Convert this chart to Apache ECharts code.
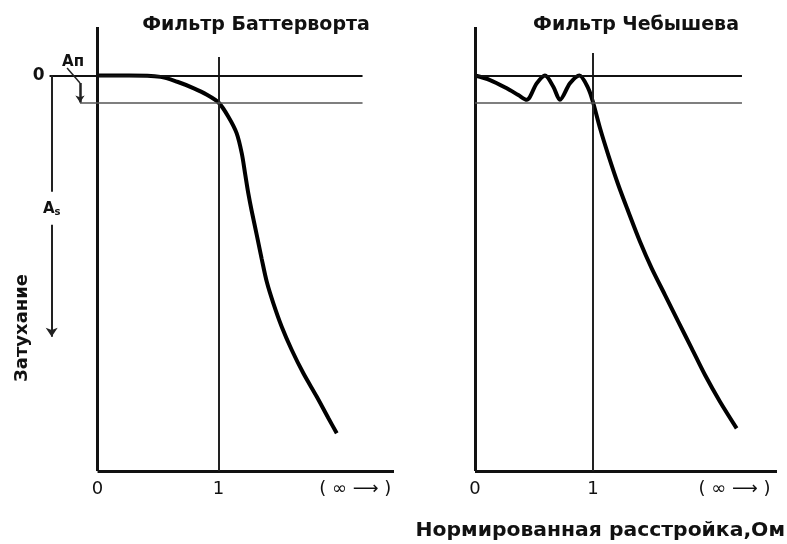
<!DOCTYPE html>
<html>
<head>
<meta charset="utf-8">
<script src="https://cdn.jsdelivr.net/npm/echarts@6/dist/echarts.min.js"></script>
<style>
html,body{margin:0;padding:0;background:#fff;}
#chart{width:787px;height:544px;}
</style>
</head>
<body>
<div id="chart"></div>
<script>
// ---- data (normalized detuning vs attenuation, attenuation grows downward) ----
const butterX = [0, 0.26, 0.52, 0.659, 0.796, 0.9, 1.0, 1.081, 1.150, 1.192, 1.219, 1.246, 1.274, 1.316, 1.357, 1.398, 1.453, 1.522, 1.605, 1.701, 1.812, 1.907, 1.977];
const butterY = [0, 0, 0.15, 0.69, 1.42, 2.1, 3.0, 4.58, 6.43, 8.66, 10.88, 13.11, 15.07, 17.75, 20.42, 22.92, 25.35, 27.95, 30.54, 33.13, 35.74, 38.1, 39.81];
const chebX = [0, 0.127, 0.269, 0.367, 0.438, 0.523, 0.593, 0.664, 0.72, 0.805, 0.885, 0.96, 1.0, 1.060, 1.130, 1.215, 1.300, 1.399, 1.498, 1.611, 1.723, 1.837, 1.950, 2.077, 2.218];
const chebY = [0, 0.5, 1.42, 2.17, 2.7, 0.87, 0, 1.25, 2.7, 0.87, 0, 1.42, 2.95, 5.87, 8.85, 12.18, 15.15, 18.49, 21.45, 24.42, 27.39, 30.35, 33.32, 36.29, 39.25];
const passbandLevels = [0, 3];          // 0 and Ап
const leftTickValues = [0, 1, 2.13];
const rightTickValues = [0, 1, 2.2];
const tickLabels = ['0', '1', '( ∞ ⟶ )'];
const titles = ['Фильтр Баттерворта', 'Фильтр Чебышева'];
const xAxisName = 'Нормированная расстройка,Ом';
const yAxisName = 'Затухание';

const Y_MIN = -5.4, Y_MAX = 44;
const INK = '#111';

function zip(a, b) { return a.map((v, i) => [v, b[i]]); }
function seg(p1, p2, w, color, endArrow) {
  return [
    { coord: p1, symbol: 'none' },
    { coord: p2, symbol: endArrow ? 'arrow' : 'none', symbolSize: endArrow ? endArrow : 0,
      lineStyle: { width: w, color: color || INK, type: 'solid' } }
  ];
}
function labelFor(ticks) {
  return function (v) {
    let best = 0, d = Infinity;
    ticks.forEach((t, i) => { if (Math.abs(t - v) < d) { d = Math.abs(t - v); best = i; } });
    return tickLabels[best];
  };
}

const chart = echarts.init(document.getElementById('chart'), null, { renderer: 'canvas' });

const commonY = {
  type: 'value', inverse: true, min: Y_MIN, max: Y_MAX,
  axisLine: { show: false }, axisTick: { show: false }, axisLabel: { show: false }, splitLine: { show: false }
};
function xAxisCfg(idx, min, max, ticks) {
  return {
    type: 'value', gridIndex: idx, min: min, max: max,
    axisLine: { show: false }, axisTick: { show: false }, splitLine: { show: false },
    axisLabel: {
      show: true, customValues: ticks, formatter: labelFor(ticks),
      color: INK, fontSize: 18, fontFamily: 'DejaVu Sans', margin: 9
    }
  };
}

const zeroLabel = { show: true, position: 'start', formatter: '0', color: INK, fontSize: 17, fontWeight: 'bold', fontFamily: 'DejaVu Sans', distance: 5 };

const option = {
  backgroundColor: '#fff',
  animation: false,
  grid: [
    { left: 31, top: 27, width: 363, bottom: 73 },
    { left: 475, top: 27, width: 302, bottom: 73 }
  ],
  xAxis: [xAxisCfg(0, -0.55, 2.45, leftTickValues), xAxisCfg(1, 0, 2.56, rightTickValues)],
  yAxis: [Object.assign({ gridIndex: 0 }, commonY), Object.assign({ gridIndex: 1 }, commonY)],
  graphic: [
    { type: 'text', x: 256, y: 25, style: { text: titles[0], fontSize: 19, fontWeight: 'bold', fontFamily: 'DejaVu Sans', fill: INK, align: 'center', verticalAlign: 'middle' } },
    { type: 'text', x: 636, y: 25, style: { text: titles[1], fontSize: 19, fontWeight: 'bold', fontFamily: 'DejaVu Sans', fill: INK, align: 'center', verticalAlign: 'middle' } },
    { type: 'text', x: 785, y: 531, scaleX: 1.07, style: { text: xAxisName, fontSize: 19, fontWeight: 'bold', fontFamily: 'DejaVu Sans', fill: INK, align: 'right', verticalAlign: 'middle' } },
    { type: 'text', x: 22, y: 328, rotation: Math.PI / 2, style: { text: yAxisName, fontSize: 18, fontWeight: 'bold', fontFamily: 'DejaVu Sans', fill: INK, align: 'center', verticalAlign: 'middle' } }
  ],
  series: [
    {
      name: titles[0], type: 'line', xAxisIndex: 0, yAxisIndex: 0,
      data: zip(butterX, butterY), showSymbol: false, symbol: 'none',
      smooth: 0.3,
      lineStyle: { color: '#000', width: 4 },
      markLine: {
        silent: true, symbol: ['none', 'none'], label: { show: false },
        lineStyle: { color: INK, width: 2, type: 'solid' },
        data: [
          seg([0, Y_MIN], [0, Y_MAX], 3),
          seg([0, Y_MAX], [2.45, Y_MAX], 3),
          seg([1, -2.06], [1, Y_MAX], 2, '#222'),
          [{ coord: [-0.397, passbandLevels[0]], symbol: 'none', label: zeroLabel },
           { coord: [2.19, passbandLevels[0]], symbol: 'none', lineStyle: { width: 1.8, color: '#111', type: 'solid' } }],
          seg([-0.145, passbandLevels[1]], [2.19, passbandLevels[1]], 1.6, '#555'),
          seg([-0.379, passbandLevels[0]], [-0.379, 12.93], 2, '#222'),
          seg([-0.379, 16.6], [-0.379, 29.06], 2, '#222', 9),
          seg([-0.252, -0.83], [-0.145, 0.83], 1.5, '#222'),
          seg([-0.145, 0.83], [-0.145, passbandLevels[1]], 2.5, '#222', 7)
        ]
      },
      markPoint: {
        silent: true, symbol: 'circle', symbolSize: 0,
        data: [
          { coord: [-0.2025, -1.5], label: { show: true, position: 'inside', formatter: 'Ап', color: INK, fontSize: 15, fontWeight: 'bold', fontFamily: 'DejaVu Sans' } },
          { coord: [-0.379, 14.85], label: { show: true, position: 'inside', formatter: '{a|A}{s|s}', color: INK,
              rich: { a: { fontSize: 15, fontWeight: 'bold', fontFamily: 'DejaVu Sans', color: INK },
                      s: { fontSize: 10, fontWeight: 'bold', fontFamily: 'DejaVu Sans', color: INK, padding: [7, 0, 0, 0] } } } }
        ]
      }
    },
    {
      name: titles[1], type: 'line', xAxisIndex: 1, yAxisIndex: 1,
      data: zip(chebX, chebY), showSymbol: false, symbol: 'none',
      smooth: 0.3,
      lineStyle: { color: '#000', width: 4 },
      markLine: {
        silent: true, symbol: ['none', 'none'], label: { show: false },
        lineStyle: { color: INK, width: 2, type: 'solid' },
        data: [
          seg([0, Y_MIN], [0, Y_MAX], 3),
          seg([0, Y_MAX], [2.56, Y_MAX], 3),
          seg([1, -2.5], [1, Y_MAX], 2, '#222'),
          seg([0, passbandLevels[0]], [2.263, passbandLevels[0]], 1.8, '#111'),
          seg([0, passbandLevels[1]], [2.263, passbandLevels[1]], 1.6, '#555')
        ]
      }
    }
  ]
};
chart.setOption(option);
</script>
</body>
</html>
